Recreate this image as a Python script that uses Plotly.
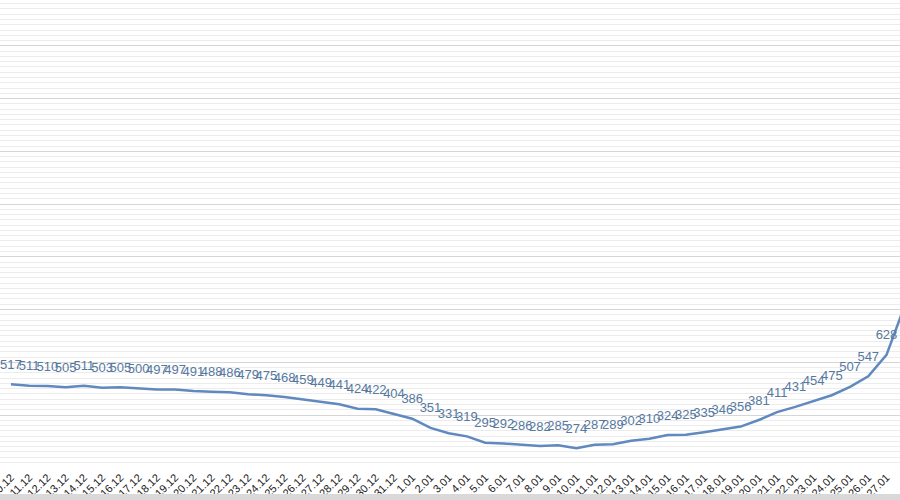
import plotly.graph_objects as go

# dates (dd.mm) and daily values
dates = [f"{d}.12" for d in range(10, 32)] + [f"{d}.01" for d in range(1, 29)]
values = [517, 511, 510, 505, 511, 503, 505, 500, 497, 497,
          491, 488, 486, 479, 475, 468, 459, 449, 441, 424,
          422, 404, 386, 351, 331, 319, 295, 292, 286, 282,
          285, 274, 287, 289, 302, 310, 324, 325, 335, 346,
          356, 381, 411, 431, 454, 475, 507, 547, 628, 815]

line_color = "#5f89bf"
label_color = "#56799f"

fig = go.Figure()

# the line itself
fig.add_trace(go.Scatter(
    x=dates, y=values,
    mode="lines",
    line=dict(color=line_color, width=2.5),
    cliponaxis=False,
    hoverinfo="skip",
))

# value labels above the points (invisible big markers push the text up)
fig.add_trace(go.Scatter(
    x=dates, y=values,
    mode="markers+text",
    text=[str(v) for v in values],
    textposition="top center",
    textfont=dict(family="Liberation Sans, Arial", size=13, color=label_color),
    marker=dict(size=18, color="rgba(0,0,0,0)"),
    cliponaxis=False,
    hoverinfo="skip",
))

fig.update_layout(
    width=900, height=500,
    margin=dict(l=0, r=0, t=0, b=32),
    paper_bgcolor="white",
    plot_bgcolor="white",
    showlegend=False,
)

fig.update_xaxes(
    type="category",
    range=[-0.6, 48.74],
    automargin=False,
    showgrid=False,
    zeroline=False,
    showline=False,
    tickangle=-45,
    tickfont=dict(family="Liberation Sans, Arial", size=11, color="#1a1a1a"),
    ticks="",
)

fig.update_yaxes(
    range=[199, 1974],
    automargin=False,
    dtick=200,
    showgrid=True,
    gridcolor="#d6d6d6",
    gridwidth=1,
    minor=dict(dtick=20, showgrid=True, gridcolor="#ececec", gridwidth=1),
    zeroline=False,
    showticklabels=False,
    ticks="",
)

# grey strip along the very bottom edge
fig.add_shape(type="rect", xref="paper", yref="paper",
              x0=0, x1=1, y0=-32 / 468, y1=-26 / 468,
              fillcolor="#d9d9d9", line=dict(width=0), layer="above")

# drop the browser's default body margin so the figure fills the window
fig.write_html("out.html",
               config={"displayModeBar": False},
               post_script="document.body.style.margin='0';"
                           "document.body.style.overflow='hidden';")
